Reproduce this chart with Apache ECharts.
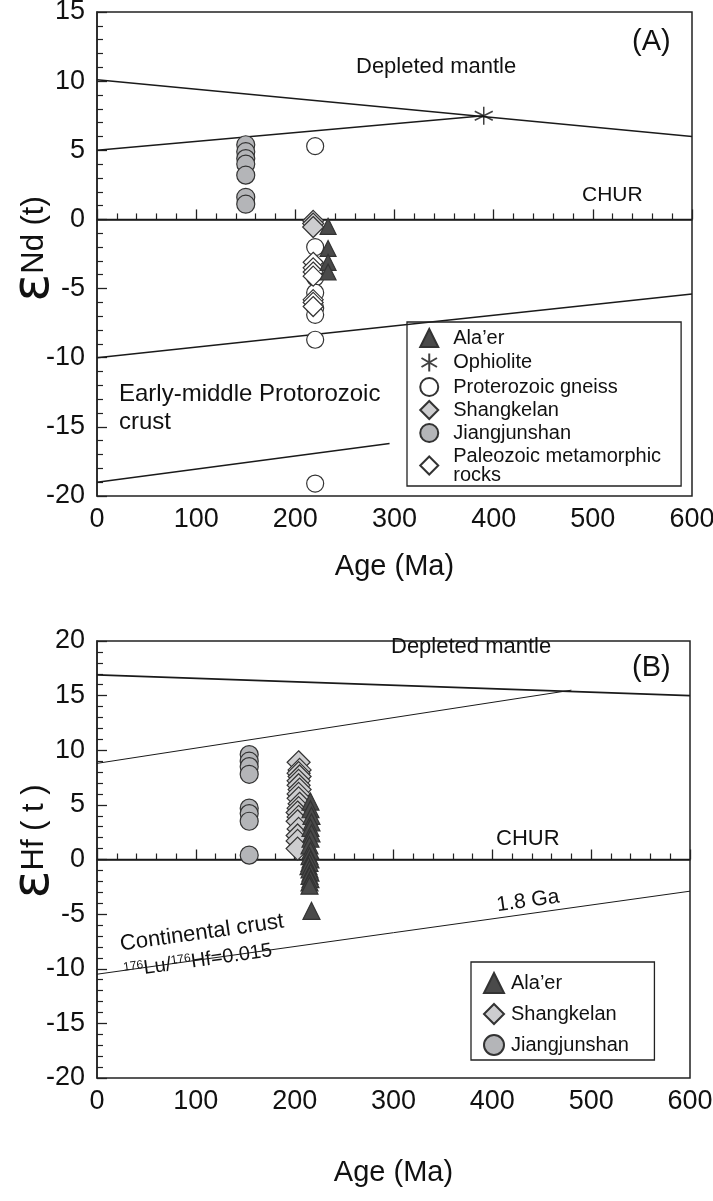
<!DOCTYPE html>
<html><head><meta charset="utf-8">
<script src="https://cdn.jsdelivr.net/npm/echarts@6/dist/echarts.min.js"></script>
<style>html,body{margin:0;padding:0;background:#fff}#c{width:713px;height:1201px}</style>
</head><body><div id="c"></div>
<script>
// ---------- Panel A (eNd) ----------
const alaerA = [[233,-0.5],[233,-2.1],[233,-3.1],[233,-3.8]];
const ophioliteA = [[390,7.5]];
const gneissA = [[220,5.3],[220,-2.0],[220,-3.4],[220,-4.2],[220,-5.3],[220,-6.4],[220,-6.9],[220,-8.7],[220,-19.1]];
const shangkelanA = [[218,-0.1],[218,-0.3],[218,-0.55]];
const jiangjunshanA = [[150,5.4],[150,4.9],[150,4.4],[150,4.0],[150,3.2],[150,1.6],[150,1.1]];
const paleozoicA = [[218,-3.1],[218,-3.5],[218,-3.8],[218,-4.1],[218,-5.8],[218,-6.0],[218,-6.3]];
const dmLineA = [[0,10.1],[600,6.0]];
const dmOphLineA = [[0,5.0],[390,7.5]];
const churA = [[0,0],[600,0]];
const crustLineA = [[0,-10.0],[600,-5.4]];
const crustLine2A = [[0,-19.0],[295,-16.2]];
// ---------- Panel B (eHf) ----------
const jiangjunshanB = [[154,9.6],[154,9.0],[154,8.5],[154,7.8],[154,4.7],[154,4.2],[154,3.5],[154,0.4]];
const shangkelanB = [[204,8.9],[205,8.2],[204,7.9],[205,7.6],[204,7.2],[204,6.8],[205,6.4],[204,6.0],[204,5.6],[205,5.1],[204,4.7],[203,4.3],[204,3.9],[203,3.5],[204,2.8],[203,2.2],[203,1.7],[203,1.0]];
const alaerB = [[216,5.3],[216,4.6],[217,4.0],[217,3.4],[216,2.9],[217,2.4],[216,1.9],[215,1.3],[216,0.8],[215,0.3],[216,0.0],[215,-0.3],[214,-0.6],[215,-0.9],[216,-1.2],[215,-1.5],[216,-1.8],[215,-2.1],[215,-2.4],[217,-4.7]];
const dmLineB = [[0,16.9],[600,15.0]];
const thinLineB = [[0,8.8],[480,15.5]];
const churB = [[0,0],[600,0]];
const crustLineB = [[0,-10.5],[600,-2.9]];

const xTicks = {min:0,max:600,interval:100};
const FONT = 'Liberation Sans, Arial, sans-serif';
const AST = 'path://M5,0L5,10M0.7,2.5L9.3,7.5M0.7,7.5L9.3,2.5';

function xAx(gi,gap){
  return {gridIndex:gi,type:'value',min:xTicks.min,max:xTicks.max,interval:xTicks.interval,
    name:'Age (Ma)',nameLocation:'middle',nameGap:gap,
    nameTextStyle:{fontSize:29,color:'#111',fontFamily:FONT},
    axisLine:{lineStyle:{color:'#222',width:1.5}},
    axisTick:{inside:true,length:10,lineStyle:{color:'#222',width:1.3}},
    minorTick:{show:true,splitNumber:5,length:6,lineStyle:{color:'#222',width:1.2}},
    axisLabel:{fontSize:27,color:'#111',margin:10,fontFamily:FONT},
    splitLine:{show:false}};
}
function yAx(gi,min,max,name,shift){
  return {gridIndex:gi,type:'value',min:min,max:max,interval:5,
    name:name,nameLocation:'middle',nameGap:37,nameRotate:90,nameMoveOverlap:false,
    nameTextStyle:{color:'#111',fontFamily:FONT,padding:[0,0,0,shift],
      rich:{e:{fontSize:52,fontFamily:'DejaVu Sans',color:'#111'},t:{fontSize:31,color:'#111',fontFamily:FONT}}},
    axisLine:{lineStyle:{color:'#222',width:1.5}},
    axisTick:{inside:true,length:10,lineStyle:{color:'#222',width:1.3}},
    minorTick:{show:true,splitNumber:5,length:6,lineStyle:{color:'#222',width:1.2}},
    axisLabel:{fontSize:27,color:'#111',margin:12,fontFamily:FONT},
    splitLine:{show:false}};
}
function ln(data,xi,w){
  return {type:'line',xAxisIndex:xi,yAxisIndex:xi,data:data,symbol:'none',silent:true,
    lineStyle:{color:'#1a1a1a',width:w||1.5},z:1,legendHoverLink:false};
}
function sc(name,data,xi,sym,size,fill,border){
  return {name:name,type:'scatter',xAxisIndex:xi,yAxisIndex:xi,data:data,symbol:sym,symbolSize:size,
    itemStyle:{color:fill,borderColor:border||'#333',borderWidth:1.2,opacity:1},z:3};
}
const triA = 'triangle', dark='#4a4a4a', gray='#b4b5b8', lgray='#cdcdcf';

const option = {
  animation:false,
  backgroundColor:'#fff',
  grid:[
    {left:97,top:12,width:595,height:484,show:true,borderColor:'#222',borderWidth:1.5,containLabel:false,outerBoundsMode:'none'},
    {left:97,top:641,width:593,height:437,show:true,borderColor:'#222',borderWidth:1.5,containLabel:false,outerBoundsMode:'none'}
  ],
  xAxis:[xAx(0,56),xAx(1,80)],
  yAxis:[yAx(0,-20,15,'{e|ε}{t|Nd (t)}',10),yAx(1,-20,20,'{e|ε}{t|Hf ( t )}',36)],
  legend:[
    {orient:'vertical',left:407,top:322,itemWidth:18,itemHeight:18,itemGap:3,
     data:['Ala’er','Ophiolite','Proterozoic gneiss','Shangkelan','Jiangjunshan','Paleozoic metamorphic rocks'],
     formatter:n=> n==='Paleozoic metamorphic rocks' ? '{t|Paleozoic metamorphic}\n{t|rocks}' : '{t|'+n+'}',
     textStyle:{fontSize:20,color:'#111',fontFamily:FONT,lineHeight:19,
       rich:{t:{fontSize:20,color:'#111',fontFamily:FONT,lineHeight:19,padding:[0,0,0,10]}}},
     borderColor:'#222',borderWidth:1.3,padding:[6,20,1,12],borderRadius:0,selectedMode:false},
    {orient:'vertical',left:471,top:962,itemWidth:20,itemHeight:20,itemGap:9,
     data:['Ala’er ','Shangkelan ','Jiangjunshan '],
     formatter:n=>'{t|'+n+'}',
     textStyle:{fontSize:20,color:'#111',fontFamily:FONT,
       rich:{t:{fontSize:20,color:'#111',fontFamily:FONT,padding:[0,0,0,2]}}},
     borderColor:'#222',borderWidth:1.3,padding:[10,20,4,12],borderRadius:0,selectedMode:false}
  ],
  series:[
    ln(dmLineA,0), ln(dmOphLineA,0), ln(churA,0), ln(crustLineA,0), ln(crustLine2A,0),
    sc('Jiangjunshan',jiangjunshanA,0,'circle',18,gray),
    sc('Proterozoic gneiss',gneissA,0,'circle',17,'#fff'),
    sc('Paleozoic metamorphic rocks',paleozoicA,0,'diamond',20,'#fff'),
    sc('Shangkelan',shangkelanA,0,'diamond',21,lgray),
    sc('Ala’er',alaerA,0,triA,16,dark),
    {name:'Ophiolite',type:'scatter',xAxisIndex:0,yAxisIndex:0,data:ophioliteA,symbol:AST,symbolSize:18,
     itemStyle:{color:'none',borderColor:'#111',borderWidth:1.5},z:4},
    ln(dmLineB,1,1.6), ln(thinLineB,1,1.0), ln(churB,1,1.6), ln(crustLineB,1,1.0),
    sc('Jiangjunshan ',jiangjunshanB,1,'circle',18,gray),
    sc('Shangkelan ',shangkelanB,1,'diamond',23,lgray),
    sc('Ala’er ',alaerB,1,triA,17,dark)
  ],
  graphic:[
    {type:'text',left:632,top:27,style:{text:'(A)',fontSize:29,fill:'#111',fontFamily:FONT}},
    {type:'text',left:356,top:56,style:{text:'Depleted mantle',fontSize:22,fill:'#111',fontFamily:FONT}},
    {type:'text',left:582,top:185,style:{text:'CHUR',fontSize:21,fill:'#111',fontFamily:FONT}},
    {type:'text',left:119,top:380,style:{text:'Early-middle Protorozoic\ncrust',fontSize:24,lineHeight:28,fill:'#111',fontFamily:FONT}},
    {type:'text',left:632,top:653,style:{text:'(B)',fontSize:29,fill:'#111',fontFamily:FONT}},
    {type:'text',left:391,top:636,style:{text:'Depleted mantle',fontSize:22,fill:'#111',fontFamily:FONT}},
    {type:'text',left:496,top:828,style:{text:'CHUR',fontSize:22,fill:'#111',fontFamily:FONT}},
    {type:'text',x:528,y:901,rotation:0.14,style:{text:'1.8 Ga',fontSize:21,fill:'#111',fontFamily:FONT,align:'center',verticalAlign:'middle'}},
    {type:'text',x:202,y:933,rotation:0.14,style:{text:'Continental crust',fontSize:22,fill:'#111',fontFamily:FONT,align:'center',verticalAlign:'middle'}},
    {type:'text',x:198,y:961,rotation:0.14,style:{text:'{s|176}{n|Lu/}{s|176}{n|Hf=0.015}',fill:'#111',align:'center',verticalAlign:'middle',
      rich:{s:{fontSize:12,verticalAlign:'top',fontFamily:FONT,fill:'#111',padding:[0,0,7,0]},n:{fontSize:20,fontFamily:FONT,fill:'#111'}}}}
  ]
};
const chart = echarts.init(document.getElementById('c'),null,{renderer:'canvas'});
chart.setOption(option);
</script></body></html>
